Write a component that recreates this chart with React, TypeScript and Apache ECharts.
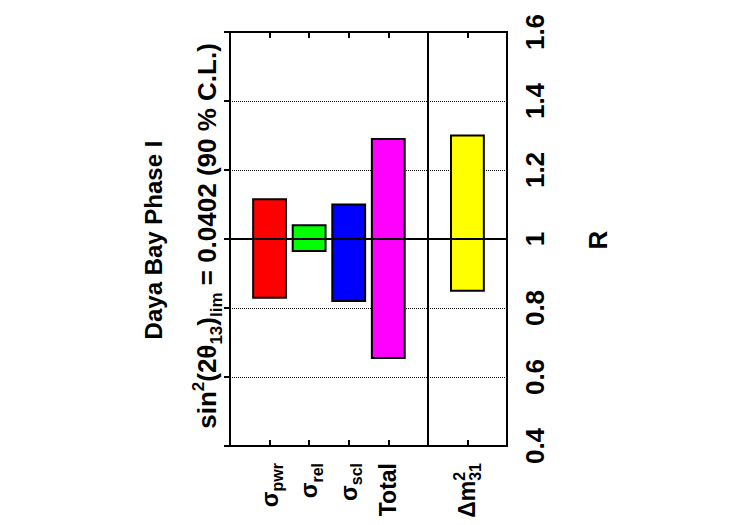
import { useEffect, useRef } from "react";
import * as echarts from "echarts";

// positions along the x axis (5 is the separator line)
const positions = [1, 2, 3, 4, 6];
const categories = ["{m|σ}{sub|pwr}", "{m|σ}{sub|rel}", "{m|σ}{sub|scl}", "{m|Total}", "{m|Δm}{sup|2}{sub|31}"];
const lowValues = [0.83, 0.965, 0.82, 0.655, 0.85];
const highValues = [1.115, 1.04, 1.1, 1.29, 1.3];
const boxColors = ["#ff0000", "#00ff00", "#0000ff", "#ff00ff", "#ffff00"];
const rTicks = [0.4, 0.6, 0.8, 1, 1.2, 1.4, 1.6];

const FONT = "'Liberation Sans', Arial, Helvetica, sans-serif";

const richStyles = {
  m: { fontSize: 23, fontWeight: "bold", lineHeight: 32, fontFamily: FONT, color: "#000" },
  sub: { fontSize: 16, fontWeight: "bold", lineHeight: 16, verticalAlign: "bottom", fontFamily: FONT, color: "#000" },
  sup: {
    fontSize: 16,
    fontWeight: "bold",
    lineHeight: 16,
    verticalAlign: "top",
    fontFamily: FONT,
    color: "#000",
    padding: [0, -9, 0, 0],
  },
};

export default function App() {
  const chartRef = useRef<HTMLDivElement>(null);

  useEffect(() => {
    if (!chartRef.current) return;
    const chart = echarts.init(chartRef.current, undefined, { renderer: "svg" });

    const boxData = positions.map((p, i) => [p, lowValues[i], highValues[i]]);

    chart.setOption({
      animation: false,
      backgroundColor: "#fff",
      grid: {
        left: 230,
        right: 243,
        top: 32,
        bottom: 79,
        show: true,
        borderColor: "#000",
        borderWidth: 2,
        backgroundColor: "transparent",
        outerBoundsMode: "none",
      },
      xAxis: [
        {
          type: "value",
          min: 0,
          max: 7,
          interval: 1,
          axisLine: { show: false },
          splitLine: { show: false },
          axisTick: { show: true, inside: true, length: 6, lineStyle: { color: "#000", width: 2 } },
          axisLabel: {
            rotate: 90,
            margin: 17,
            formatter: (v: number) => {
              const i = positions.indexOf(v);
              return i >= 0 ? categories[i] : "";
            },
            rich: richStyles,
          },
        },
        {
          type: "value",
          position: "top",
          min: 0,
          max: 7,
          interval: 1,
          axisLine: { show: false },
          splitLine: { show: false },
          axisLabel: { show: false },
          axisTick: { show: true, inside: true, length: 6, lineStyle: { color: "#000", width: 2 } },
        },
      ],
      yAxis: {
        type: "value",
        position: "right",
        min: rTicks[0],
        max: rTicks[rTicks.length - 1],
        interval: 0.2,
        axisLine: { show: false },
        axisTick: { show: true, inside: true, length: 6, lineStyle: { color: "#000", width: 2 } },
        splitLine: { show: true, lineStyle: { color: "#000", type: "dotted", width: 1 } },
        axisLabel: {
          rotate: 90,
          margin: 15,
          fontSize: 26,
          fontWeight: "bold",
          fontFamily: FONT,
          color: "#000",
          formatter: (v: number) => String(Math.round(v * 10) / 10),
        },
      },
      graphic: [
        {
          type: "text",
          x: 153,
          y: 240,
          rotation: Math.PI / 2,
          style: {
            text: "Daya Bay Phase I",
            fontSize: 24,
            fontWeight: "bold",
            fontFamily: FONT,
            fill: "#000",
            align: "center",
            verticalAlign: "middle",
          },
        },
        {
          type: "text",
          x: 207,
          y: 236,
          rotation: Math.PI / 2,
          style: {
            text: "{m|sin}{sup|2}{m|(2θ}{sub|13}{m|)}{sub|lim}{m| = 0.0402 (90 % C.L.)}",
            rich: {
              m: { fontSize: 26, fontWeight: "bold", lineHeight: 35, fontFamily: FONT, fill: "#000" },
              sub: { fontSize: 17, fontWeight: "bold", lineHeight: 17, verticalAlign: "bottom", fontFamily: FONT, fill: "#000" },
              sup: { fontSize: 17, fontWeight: "bold", lineHeight: 17, verticalAlign: "top", fontFamily: FONT, fill: "#000" },
            },
            align: "center",
            verticalAlign: "middle",
          },
        },
        {
          type: "text",
          x: 598,
          y: 240,
          rotation: Math.PI / 2,
          style: {
            text: "R",
            fontSize: 26,
            fontWeight: "bold",
            fontFamily: FONT,
            fill: "#000",
            align: "center",
            verticalAlign: "middle",
          },
        },
      ],
      series: [
        {
          type: "custom",
          z: 2,
          data: boxData,
          renderItem: (params: any, api: any) => {
            const x = api.value(0);
            const lo = api.value(1);
            const hi = api.value(2);
            const half = 0.415;
            const p1 = api.coord([x - half, hi]);
            const p2 = api.coord([x + half, lo]);
            return {
              type: "rect",
              shape: { x: p1[0], y: p1[1], width: p2[0] - p1[0], height: p2[1] - p1[1] },
              style: { fill: boxColors[params.dataIndex], stroke: "#000", lineWidth: 2 },
            };
          },
        },
        {
          type: "line",
          z: 5,
          data: [],
          markLine: {
            silent: true,
            symbol: "none",
            label: { show: false },
            lineStyle: { color: "#000", type: "solid", width: 2 },
            data: [{ yAxis: 1 }, { xAxis: 5 }],
          },
        },
      ],
    });

    return () => {
      chart.dispose();
    };
  }, []);

  return (
    <div
      ref={chartRef}
      style={{ position: "fixed", left: 0, top: 0, width: 750, height: 525 }}
    />
  );
}
